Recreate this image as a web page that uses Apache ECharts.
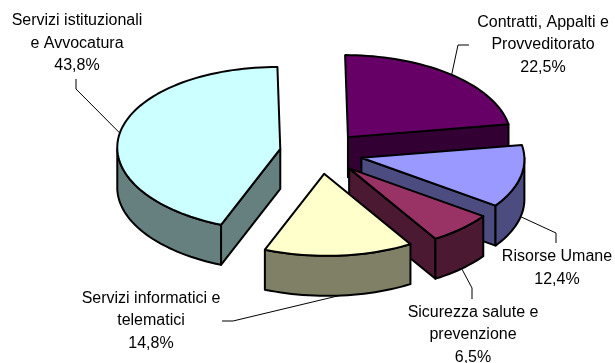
<!DOCTYPE html>
<html>
<head>
<meta charset="utf-8">
<style>html,body{margin:0;padding:0;background:#fff}#main{width:615px;height:363px}</style>
<script src="https://cdn.jsdelivr.net/npm/echarts@6/dist/echarts.min.js"></script>
</head>
<body>
<div id="main"></div>
<script>
// data, clockwise from 12 o'clock
var categories = ['Contratti, Appalti e\nProvveditorato', 'Risorse Umane', 'Sicurezza salute e\nprevenzione', 'Servizi informatici e\ntelematici', 'Servizi istituzionali\ne Avvocatura'];
var shares = [22.5, 12.4, 6.5, 14.8, 43.8];

// colours
var topColors = ['#660066', '#9999FF', '#993366', '#FFFFCC', '#CCFFFF'];
var sideColors = ['#330033', '#4C4C80', '#4C1933', '#808066', '#668080'];

// layout of the tilted pie
var cx = 321, cy = 153, rx = 163, ry = 82, depth = 40, explode = 41.5, shear = 0.035;
var labelPos = [[543, 45], [557, 268], [473, 335], [151, 321], [77, 43.5]];
var leaderTail = [[[458, 45], [469, 45]], [[556, 233], [556, 243]], [[472, 288], [472, 299]], [[233, 321], [222, 321]], [[76, 89], [76, 79]]];

var RAD = Math.PI / 180;
function onRim(c, deg) {
    var dy = -ry * Math.cos(deg * RAD);
    return [c[0] + rx * Math.sin(deg * RAD) + shear * dy, c[1] + dy];
}
function down(p) { return [p[0], p[1] + depth]; }
function arcPoints(c, a, b) {
    var pts = [], n = Math.max(2, Math.ceil((b - a) / 2));
    for (var i = 0; i <= n; i++) pts.push(onRim(c, a + (b - a) * i / n));
    return pts;
}
var lineStyle = { stroke: '#000', lineWidth: 2, lineJoin: 'round' };
function face(points, fill, z2) {
    return { type: 'polygon', z2: z2, shape: { points: points }, style: Object.assign({ fill: fill }, lineStyle) };
}

function renderSlice(params, api) {
    var i = params.dataIndex, share = api.value(0), before = 0;
    for (var k = 0; k < i; k++) before += shares[k];
    var a = before * 3.6, b = (before + share) * 3.6, mid = (a + b) / 2;
    var c = [cx + explode * Math.sin(mid * RAD), cy - explode * ry / rx * Math.cos(mid * RAD)];
    var base = Math.round(c[1]) * 10, kids = [];

    // flat side faces, only those turned to the viewer
    if (Math.sin(a * RAD) < -1e-6) {
        var pa = onRim(c, a);
        kids.push(face([c, pa, down(pa), down(c)], sideColors[i], base));
    }
    if (Math.sin(b * RAD) > 1e-6) {
        var pb = onRim(c, b);
        kids.push(face([c, pb, down(pb), down(c)], sideColors[i], base));
    }
    // curved wall
    var from = Math.max(a, 90), to = Math.min(b, 270);
    if (to > from) {
        var arc = arcPoints(c, from, to);
        kids.push(face(arc.concat(arc.map(down).reverse()), sideColors[i], base + 1));
    }
    // top
    kids.push(face([c].concat(arcPoints(c, a, b)), topColors[i], base + 2));

    // leader and label
    var anchor = onRim(c, mid);
    if (mid > 90 && mid < 270) anchor = down(anchor);
    kids.push({ type: 'polyline', z2: 2000, shape: { points: [anchor].concat(leaderTail[i]) }, style: { stroke: '#000', lineWidth: 1, fill: null } });
    kids.push({
        type: 'text', z2: 2001, x: labelPos[i][0], y: labelPos[i][1],
        style: {
            text: categories[i] + '\n' + share.toFixed(1).replace('.', ',') + '%',
            align: 'center', verticalAlign: 'middle', lineHeight: 22.5,
            font: '16px "Liberation Sans"', fill: '#000'
        }
    });
    return { type: 'group', children: kids };
}

var chart = echarts.init(document.getElementById('main'));
chart.setOption({
    animation: false,
    series: [{
        type: 'custom',
        coordinateSystem: 'none',
        renderItem: renderSlice,
        data: shares.map(function (v) { return [v]; })
    }]
});
</script>
</body>
</html>
